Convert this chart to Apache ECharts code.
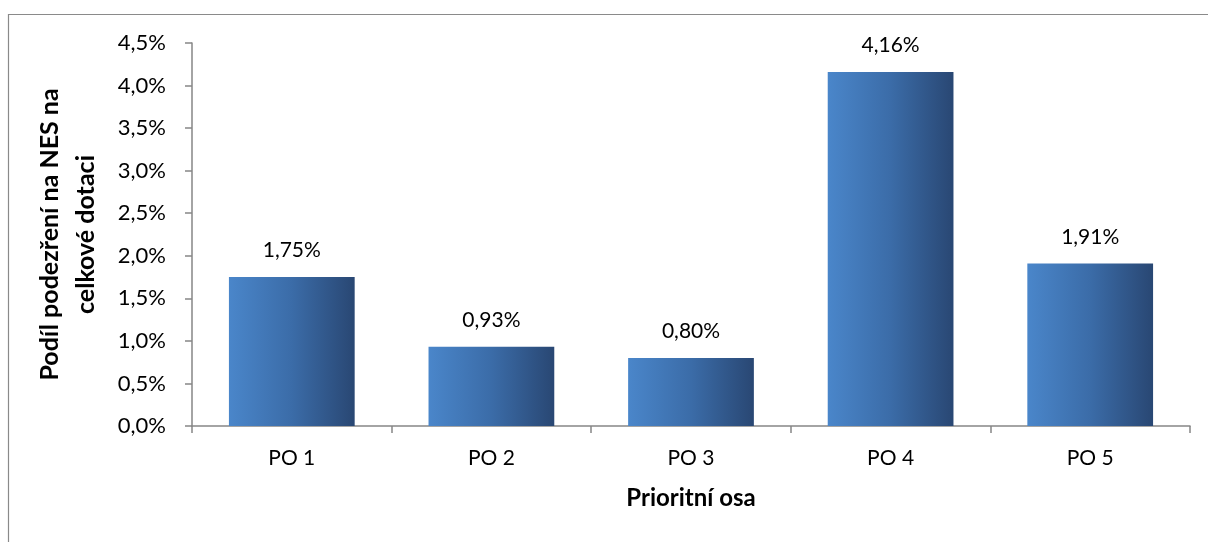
<!DOCTYPE html>
<html><head><meta charset="utf-8">
<script src="https://cdn.jsdelivr.net/npm/echarts@6/dist/echarts.min.js"></script>
<style>html,body{margin:0;padding:0;background:#fff}#c{width:1208px;height:542px}</style>
</head><body><div id="c"></div>
<script>
const categories = ['PO 1','PO 2','PO 3','PO 4','PO 5'];
const values = [1.75, 0.93, 0.80, 4.16, 1.91];
const yAxisTitle = 'Podíl podezření na NES na\ncelkové dotaci';
const xAxisTitle = 'Prioritní osa';
const fmt = v => v.toFixed(1).replace('.', ',') + '%';
const fmt2 = v => v.toFixed(2).replace('.', ',') + '%';
const FONT = 'Lato';
const chart = echarts.init(document.getElementById('c'));
chart.setOption({
  animation: false,
  graphic: [{type:'rect', shape:{x:8.5,y:14.5,width:1400,height:700}, style:{fill:'none',stroke:'#8a8a8a',lineWidth:1.2}, silent:true}],
  grid: {left:192, right:18, top:43, bottom:116},
  xAxis: {
    type:'category', data:categories,
    name:xAxisTitle, nameLocation:'middle', nameGap:60,
    nameTextStyle:{fontFamily:FONT,fontSize:24,fontWeight:'bold',color:'#000',verticalAlign:'top'},
    axisLine:{lineStyle:{color:'#868686',width:1.5}},
    axisTick:{show:true,alignWithLabel:false,length:7,lineStyle:{color:'#868686',width:1.5}},
    axisLabel:{fontFamily:FONT,fontSize:21,color:'#000',margin:22}
  },
  yAxis: {
    type:'value', min:0, max:4.5, interval:0.5,
    name:yAxisTitle, nameLocation:'middle', nameGap:88, nameRotate:90,
    nameTextStyle:{fontFamily:FONT,fontSize:25,fontWeight:'bold',color:'#000',lineHeight:36},
    axisLine:{show:true,lineStyle:{color:'#868686',width:1.5}},
    axisTick:{show:true,length:7,lineStyle:{color:'#868686',width:1.5}},
    splitLine:{show:false},
    axisLabel:{fontFamily:FONT,fontSize:22,color:'#000',margin:26,formatter:fmt}
  },
  series: [{
    type:'bar', data:values, barWidth:'63%',
    itemStyle:{color:new echarts.graphic.LinearGradient(0,0,1,0,[{offset:0,color:'#4a86ca'},{offset:0.5,color:'#3b6ca8'},{offset:1,color:'#294773'}])},
    label:{show:true,position:'top',distance:16,fontFamily:FONT,fontSize:21,color:'#000',formatter:p=>fmt2(p.value)}
  }]
});
</script></body></html>
